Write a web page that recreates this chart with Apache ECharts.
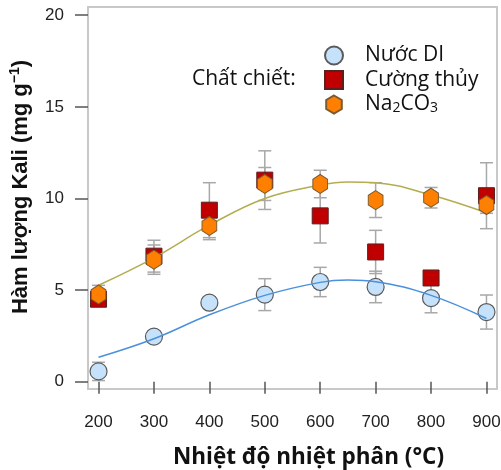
<!DOCTYPE html>
<html>
<head>
<meta charset="utf-8">
<script src="https://cdn.jsdelivr.net/npm/echarts@6/dist/echarts.min.js"></script>
<style>
  html, body { margin: 0; padding: 0; background: #fff; }
  #chart { width: 501px; height: 470px; }
</style>
</head>
<body>
<div id="chart"></div>
<script>
var temps = [200, 300, 400, 500, 600, 700, 800, 900];
var xTicks = [200, 300, 400, 500, 600, 700, 800, 900];
var yTicks = [0, 5, 10, 15, 20];

// Nước DI
var diVals = [0.56, 2.46, 4.31, 4.75, 5.44, 5.17, 4.56, 3.8];
var diErr  = [0.5, 0.3, 0.3, 0.87, 0.8, 0.86, 0.8, 0.93];
// Cường thủy
var ctVals = [4.5, 6.85, 9.36, 11.0, 9.05, 7.08, 5.66, 10.15];
var ctErr  = [0.3, 0.87, 1.5, 1.6, 1.48, 1.18, 0.3, 1.8];
// Na2CO3
var naVals = [4.76, 6.66, 8.5, 10.79, 10.79, 9.91, 10.04, 9.64];
var naErr  = [0.5, 0.8, 0.75, 0.9, 0.75, 0.95, 0.56, 0.45];

// fitted curves
var fitX  = [200, 300, 400, 500, 600, 650, 700, 800, 900];
var fitDI = [1.33, 2.34, 3.65, 4.71, 5.42, 5.55, 5.46, 4.71, 3.45];
var fitNa = [5.26, 6.76, 8.54, 10.0, 10.73, 10.9, 10.86, 10.19, 9.22];

function pairs(xs, ys) {
    return xs.map(function (x, i) { return [x, ys[i]]; });
}
function bars(xs, ys, es) {
    return xs.map(function (x, i) { return [x, ys[i] - es[i], ys[i] + es[i]]; });
}
function errRender(params, api) {
    var x = api.value(0);
    var top = api.coord([x, api.value(2)]);
    var bot = api.coord([x, api.value(1)]);
    var w = 6.5;
    var st = { stroke: '#a8a8a8', lineWidth: 1.5 };
    return {
        type: 'group',
        children: [
            { type: 'line', shape: { x1: top[0], y1: top[1], x2: bot[0], y2: bot[1] }, style: st },
            { type: 'line', shape: { x1: top[0] - w, y1: top[1], x2: top[0] + w, y2: top[1] }, style: st },
            { type: 'line', shape: { x1: bot[0] - w, y1: bot[1], x2: bot[0] + w, y2: bot[1] }, style: st }
        ]
    };
}
function errSeries(data) {
    return {
        type: 'custom',
        renderItem: errRender,
        encode: { x: 0, y: [1, 2] },
        data: data,
        z: 1,
        silent: true
    };
}

var hexagon = 'path://M0,-10L8.66,-5L8.66,5L0,10L-8.66,5L-8.66,-5Z';

var chart = echarts.init(document.getElementById('chart'));

var option = {
    animation: false,
    title: {
        text: 'Chất chiết:',
        left: 192,
        top: 67,
        padding: 0,
        textStyle: {
            fontFamily: 'Open Sans',
            fontSize: 21,
            fontWeight: 'normal',
            color: '#111',
            lineHeight: 24
        }
    },
    legend: {
        orient: 'vertical',
        left: 319,
        top: 40,
        itemWidth: 18,
        itemHeight: 18,
        itemGap: 3.5,
        data: ['Nước DI', 'Cường thủy', 'Na2CO3'],
        formatter: function (name) {
            if (name === 'Na2CO3') return '{t|Na}{s|2}{t|CO}{s|3}';
            return '{t|' + name + '}';
        },
        textStyle: {
            padding: [0, 0, 0, 17],
            color: '#111',
            rich: {
                t: { fontFamily: 'Open Sans', fontSize: 21, lineHeight: 22, color: '#111' },
                s: { fontFamily: 'Open Sans', fontSize: 14, lineHeight: 4, verticalAlign: 'bottom', color: '#111' }
            }
        }
    },
    grid: {
        left: 88,
        right: 4,
        top: 7,
        bottom: 81,
        containLabel: false,
        outerBoundsMode: 'none',
        show: true,
        borderColor: '#c8c8c8',
        borderWidth: 2
    },
    xAxis: {
        type: 'value',
        min: 181,
        max: 919,
        offset: 2,
        name: 'Nhiệt độ nhiệt phân (°C)',
        nameLocation: 'middle',
        nameGap: 55,
        nameTextStyle: {
            fontFamily: 'Open Sans',
            fontSize: 22.5,
            fontWeight: 'bold',
            color: '#111',
            padding: [0, 0, 0, 32]
        },
        axisLine: { show: false },
        axisTick: { show: true, length: 12, customValues: xTicks, lineStyle: { color: '#555', width: 1.5 } },
        axisLabel: {
            customValues: xTicks,
            margin: 23,
            fontFamily: 'Liberation Sans',
            fontSize: 17,
            color: '#222'
        },
        splitLine: { show: false }
    },
    yAxis: {
        type: 'value',
        min: -0.4,
        max: 20.45,
        name: '{a|Hàm lượng Kali (mg g}{b|−1}{a|)}',
        nameLocation: 'middle',
        nameGap: 54,
        nameRotate: 90,
        nameTextStyle: {
            padding: [0, 0, 0, 22],
            rich: {
                a: { fontFamily: 'Liberation Sans', fontSize: 22, fontWeight: 'bold', color: '#111', lineHeight: 26 },
                b: { fontFamily: 'Liberation Sans', fontSize: 14, fontWeight: 'bold', color: '#111', lineHeight: 14, verticalAlign: 'top' }
            }
        },
        axisLine: { show: false },
        axisTick: { show: true, length: 13, customValues: yTicks, lineStyle: { color: '#555', width: 1.5 } },
        axisLabel: {
            customValues: yTicks,
            margin: 24,
            fontFamily: 'Liberation Sans',
            fontSize: 17,
            color: '#222'
        },
        splitLine: { show: false }
    },
    series: [
        errSeries(bars(temps, diVals, diErr)),
        errSeries(bars(temps, ctVals, ctErr)),
        errSeries(bars(temps, naVals, naErr)),
        {
            name: 'Nước DI',
            type: 'scatter',
            data: pairs(temps, diVals),
            symbol: 'circle',
            symbolSize: 17,
            itemStyle: { color: '#c6e2fb', borderColor: '#5a5a5a', borderWidth: 1.2, opacity: 1 },
            z: 2
        },
        {
            name: 'fitDI',
            type: 'line',
            data: pairs(fitX, fitDI),
            smooth: 0.4,
            showSymbol: false,
            lineStyle: { color: '#4a90dc', width: 1.5 },
            z: 3,
            silent: true
        },
        {
            name: 'Cường thủy',
            type: 'scatter',
            data: pairs(temps, ctVals),
            symbol: 'rect',
            symbolSize: 16,
            itemStyle: { color: '#c00000', borderColor: '#5a2020', borderWidth: 1, opacity: 1 },
            z: 4
        },
        {
            name: 'fitNa',
            type: 'line',
            data: pairs(fitX, fitNa),
            smooth: 0.4,
            showSymbol: false,
            lineStyle: { color: '#b3ad50', width: 1.5 },
            z: 5,
            silent: true
        },
        {
            name: 'Na2CO3',
            type: 'scatter',
            data: pairs(temps, naVals),
            symbol: hexagon,
            symbolSize: [17, 19],
            symbolKeepAspect: true,
            itemStyle: { color: '#ff8000', borderColor: '#7a5a30', borderWidth: 1, opacity: 1 },
            z: 6
        }
    ]
};

chart.setOption(option);
</script>
</body>
</html>
